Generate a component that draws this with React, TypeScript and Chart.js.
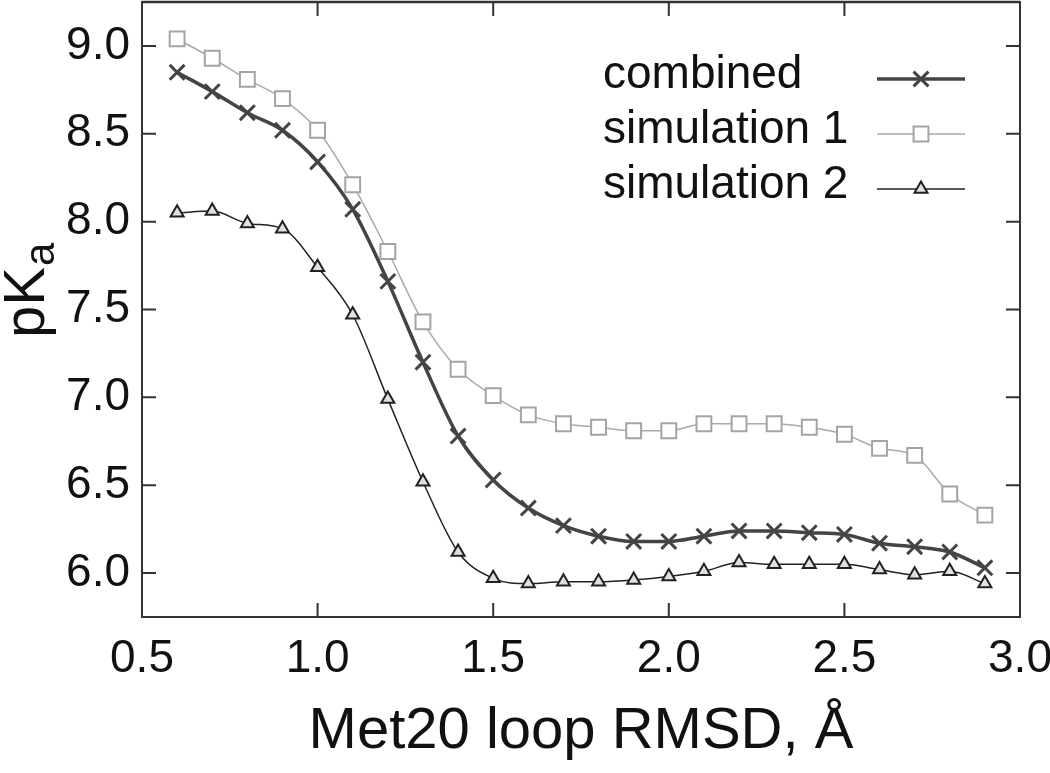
import React, { useEffect, useRef } from 'react';
import { Chart, registerables } from 'chart.js';
import { drawPoint } from 'chart.js/helpers';

Chart.register(...registerables);

const rmsd = [0.6, 0.7, 0.8, 0.9, 1.0, 1.1, 1.2, 1.3, 1.4, 1.5, 1.6, 1.7, 1.8, 1.9, 2.0, 2.1, 2.2, 2.3, 2.4, 2.5, 2.6, 2.7, 2.8, 2.9];
const combined = [8.85, 8.74, 8.62, 8.52, 8.34, 8.07, 7.66, 7.2, 6.78, 6.53, 6.37, 6.27, 6.21, 6.18, 6.18, 6.21, 6.24, 6.24, 6.23, 6.22, 6.17, 6.15, 6.12, 6.03];
const simulation1 = [9.04, 8.93, 8.81, 8.7, 8.52, 8.21, 7.83, 7.43, 7.16, 7.01, 6.9, 6.85, 6.83, 6.81, 6.81, 6.85, 6.85, 6.85, 6.83, 6.79, 6.71, 6.67, 6.45, 6.33];
const simulation2 = [8.05, 8.06, 7.99, 7.96, 7.74, 7.47, 6.99, 6.52, 6.12, 5.97, 5.94, 5.95, 5.95, 5.96, 5.98, 6.01, 6.06, 6.05, 6.05, 6.05, 6.02, 5.99, 6.01, 5.94];
const seriesLabels = ['combined', 'simulation 1', 'simulation 2'];
const xTicks = [0.5, 1.0, 1.5, 2.0, 2.5, 3.0];
const yTicks = [6.0, 6.5, 7.0, 7.5, 8.0, 8.5, 9.0];
const xTitle = 'Met20 loop RMSD, Å';
const yTitleMain = 'pK';
const yTitleSub = 'a';

const FONT = '"Liberation Sans", Arial, Helvetica, sans-serif';
const AXIS = '#333333';

const framePlugin = {
  id: 'frame',
  afterDatasetsDraw(chart: any) {
    const { ctx, chartArea } = chart;
    const { left, right, top, bottom } = chartArea;
    const xs = chart.scales.x;
    const ys = chart.scales.y;
    const tl = 14;
    ctx.save();
    ctx.strokeStyle = AXIS;
    ctx.lineWidth = 2;
    ctx.strokeRect(left, top, right - left, bottom - top);
    ctx.lineWidth = 2.5;
    ctx.beginPath();
    ctx.moveTo(left, top);
    ctx.lineTo(right, top);
    ctx.stroke();
    ctx.lineWidth = 2;
    ctx.beginPath();
    xTicks.forEach((v) => {
      const px = xs.getPixelForValue(v);
      ctx.moveTo(px, bottom);
      ctx.lineTo(px, bottom - tl);
      ctx.moveTo(px, top);
      ctx.lineTo(px, top + tl);
    });
    yTicks.forEach((v) => {
      const py = ys.getPixelForValue(v);
      ctx.moveTo(left, py);
      ctx.lineTo(left + tl, py);
      ctx.moveTo(right, py);
      ctx.lineTo(right - tl, py);
    });
    ctx.stroke();
    ctx.restore();
  },
  afterDraw(chart: any) {
    const { ctx } = chart;
    ctx.save();
    ctx.fillStyle = '#111';
    ctx.translate(44, 338);
    ctx.rotate(-Math.PI / 2);
    ctx.textAlign = 'left';
    ctx.textBaseline = 'alphabetic';
    ctx.font = `58px ${FONT}`;
    ctx.fillText(yTitleMain, 0, 0);
    const w = ctx.measureText(yTitleMain).width;
    ctx.font = `42px ${FONT}`;
    ctx.fillText(yTitleSub, w + 1, 10);
    ctx.restore();

    ctx.save();
    chart.data.datasets.forEach((ds: any, i: number) => {
      const base = 88 + i * 55;
      ctx.fillStyle = '#111';
      ctx.font = `46px ${FONT}`;
      ctx.textAlign = 'left';
      ctx.textBaseline = 'alphabetic';
      ctx.fillText(ds.label, 603, base);
      const ly = base - 9;
      ctx.strokeStyle = ds.borderColor;
      ctx.lineWidth = ds.borderWidth;
      ctx.beginPath();
      ctx.moveTo(877, ly);
      ctx.lineTo(965, ly);
      ctx.stroke();
      ctx.fillStyle = ds.pointBackgroundColor;
      ctx.strokeStyle = ds.pointBorderColor;
      ctx.lineWidth = ds.pointBorderWidth;
      drawPoint(ctx, { pointStyle: ds.pointStyle, radius: ds.pointRadius, rotation: 0, borderWidth: ds.pointBorderWidth }, 921, ly);
    });
    ctx.restore();
  },
};

export default function App() {
  const ref = useRef<HTMLCanvasElement>(null);
  useEffect(() => {
    if (!ref.current) return;
    const chart = new Chart(ref.current, {
      type: 'line',
      data: {
        datasets: [
          {
            label: seriesLabels[0],
            data: rmsd.map((x, i) => ({ x, y: combined[i] })),
            borderColor: '#444444',
            borderWidth: 3.5,
            pointStyle: 'crossRot',
            pointRadius: 10.5,
            pointBorderWidth: 3,
            pointBorderColor: '#444444',
            pointBackgroundColor: '#444444',
            cubicInterpolationMode: 'monotone',
          },
          {
            label: seriesLabels[1],
            data: rmsd.map((x, i) => ({ x, y: simulation1[i] })),
            borderColor: '#aaaaaa',
            borderWidth: 1.5,
            pointStyle: 'rect',
            pointRadius: 10.5,
            pointBorderWidth: 2,
            pointBorderColor: '#a4a4a4',
            pointBackgroundColor: '#ffffff',
            cubicInterpolationMode: 'monotone',
          },
          {
            label: seriesLabels[2],
            data: rmsd.map((x, i) => ({ x, y: simulation2[i] })),
            borderColor: '#222222',
            borderWidth: 1.5,
            pointStyle: 'triangle',
            pointRadius: 7.5,
            pointBorderWidth: 2,
            pointBorderColor: '#222222',
            pointBackgroundColor: '#e0e0e0',
            cubicInterpolationMode: 'monotone',
          },
        ] as any,
      },
      options: {
        animation: false,
        responsive: false,
        devicePixelRatio: 1,
        layout: { autoPadding: false, padding: { left: 0, top: 2, right: 30, bottom: 0 } },
        plugins: { legend: { display: false }, tooltip: { enabled: false } },
        scales: {
          x: {
            type: 'linear',
            min: 0.5,
            max: 3.0,
            afterBuildTicks: (s: any) => { s.ticks = xTicks.map((v) => ({ value: v })); },
            afterFit: (s: any) => { s.height = 156; s.paddingLeft = 0; s.paddingRight = 0; },
            grid: { display: false, drawTicks: false },
            border: { display: false },
            ticks: {
              padding: 15,
              color: '#111',
              font: { family: FONT, size: 46 },
              maxRotation: 0,
              autoSkip: false,
              callback: (v: any) => Number(v).toFixed(1),
            },
            title: {
              display: true,
              text: xTitle,
              color: '#111',
              font: { family: FONT, size: 58 },
              padding: { top: 0, bottom: 6 },
            },
          },
          y: {
            type: 'linear',
            min: 5.75,
            max: 9.25,
            afterBuildTicks: (s: any) => { s.ticks = yTicks.map((v) => ({ value: v })); },
            afterFit: (s: any) => { s.width = 142; s.paddingTop = 0; s.paddingBottom = 0; },
            grid: { display: false, drawTicks: false },
            border: { display: false },
            ticks: {
              padding: 12,
              color: '#111',
              font: { family: FONT, size: 46 },
              autoSkip: false,
              callback: (v: any) => Number(v).toFixed(1),
            },
          },
        },
      },
      plugins: [framePlugin],
    });
    return () => chart.destroy();
  }, []);
  return (
    <div style={{ position: 'fixed', left: 0, top: 0, width: 1050, height: 773, background: '#fff' }}>
      <canvas ref={ref} width={1050} height={773} style={{ width: 1050, height: 773, display: 'block' }} />
    </div>
  );
}
